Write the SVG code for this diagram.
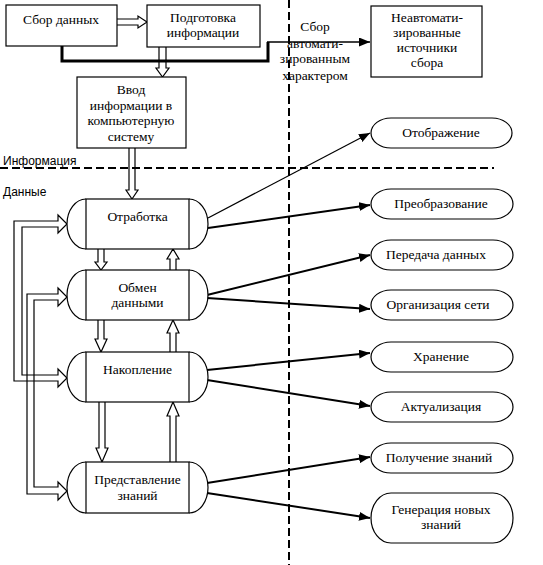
<svg xmlns="http://www.w3.org/2000/svg" width="543" height="565" viewBox="0 0 543 565">
<defs>
<style>
.box{fill:#fff;stroke:#000;stroke-width:1.2}
.t{font-family:"Liberation Serif","Times New Roman",serif;font-size:13.5px;fill:#000;text-anchor:middle}
.ts{font-family:"Liberation Sans",Arial,sans-serif;font-size:12px;fill:#000}
.hol{fill:none;stroke:#000;stroke-width:1.2;stroke-linejoin:miter}
.con{fill:none;stroke:#000;stroke-width:2}
.dash{fill:none;stroke:#000;stroke-width:2;stroke-dasharray:8 4}
</style>
<marker id="ah" markerUnits="userSpaceOnUse" markerWidth="12" markerHeight="10" refX="11" refY="4.5" orient="auto">
<path d="M0,0 L11,4.5 L0,9 z" fill="#000"/>
</marker>
</defs>
<rect width="543" height="565" fill="#fff"/>

<!-- separators -->
<g id="separators">
<line class="dash" x1="0" y1="168" x2="494" y2="168"/>
<line class="dash" x1="289" y1="0" x2="289" y2="565"/>
<text class="ts" x="3" y="165">Информация</text>
<text class="ts" x="3" y="196">Данные</text>
</g>

<!-- connectors -->
<g id="connectors">
<!-- thick collection line -->
<path d="M62,46 V61 H268 V42" fill="none" stroke="#000" stroke-width="3"/>
<path d="M267,42 H370" fill="none" stroke="#000" stroke-width="1.5" marker-end="url(#ah)"/>
<!-- hollow arrows top -->
<path class="hol" d="M117,19 H138 V16 L147,22 L138,28 V25 H117"/>
<path class="hol" d="M159,47 V68 H156 L162.5,77 L169,68 H166 V47"/>
<path class="hol" d="M129,148 V190 H126 L132,199 L138,190 H135 V148"/>
<!-- between processes -->
<path class="hol" d="M98,249 V262 H95 L101,270 L107,262 H104 V249"/>
<path class="hol" d="M170,270 V259 H167 L173,249 L179,259 H176 V270"/>
<path class="hol" d="M98,320 V339 H95 L101,352 L107,339 H104 V320"/>
<path class="hol" d="M170,352 V333 H167 L173,320 L179,333 H176 V352"/>
<path class="hol" d="M99,402 V448 H96 L102,462 L108,448 H105 V402"/>
<path class="hol" d="M170,462 V416 H167 L173,402 L179,416 H176 V462"/>
<!-- left loops -->
<path class="hol" d="M58,215 L67,224 L58,233 V227 H22 V375 H58 V369 L67,378 L58,387 V381 H14 V221 H58 Z"/>
<path class="hol" d="M58,288 L67,297 L58,306 V300 H34 V487 H58 V482 L67,491 L58,500 V494 H27 V294 H58 Z"/>
<!-- outputs -->
<line x1="208" y1="218" x2="370" y2="133" stroke="#000" stroke-width="1.3" marker-end="url(#ah)"/>
<line class="con" x1="208" y1="228" x2="370" y2="205" marker-end="url(#ah)"/>
<line class="con" x1="207" y1="295" x2="370" y2="255" marker-end="url(#ah)"/>
<line class="con" x1="207" y1="298" x2="370" y2="309" marker-end="url(#ah)"/>
<line class="con" x1="207" y1="370" x2="370" y2="353" marker-end="url(#ah)"/>
<line class="con" x1="207" y1="380" x2="370" y2="406" marker-end="url(#ah)"/>
<line class="con" x1="207" y1="483" x2="370" y2="457" marker-end="url(#ah)"/>
<line class="con" x1="207" y1="493" x2="370" y2="518" marker-end="url(#ah)"/>
</g>

<!-- top nodes -->
<g id="sbor">
<rect class="box" x="6" y="5" width="111" height="41"/>
<text class="t" x="61" y="24">Сбор данных</text>
</g>
<g id="podgotovka">
<rect class="box" x="147" y="5" width="113" height="42"/>
<text class="t" x="203" y="22">Подготовка</text>
<text class="t" x="203" y="37">информации</text>
</g>
<g id="vvod">
<rect class="box" x="77" y="77" width="109" height="71"/>
<text class="t" x="131" y="94">Ввод</text>
<text class="t" x="131" y="110">информации в</text>
<text class="t" x="131" y="125">компьютерную</text>
<text class="t" x="131" y="141">систему</text>
</g>
<g id="neavto">
<rect class="box" x="371" y="6" width="111" height="71"/>
<text class="t" x="427" y="22">Неавтомати-</text>
<text class="t" x="427" y="37">зированные</text>
<text class="t" x="427" y="52">источники</text>
<text class="t" x="427" y="67">сбора</text>
</g>
<g id="sbor-label">
<text class="t" x="315" y="31">Сбор</text>
<text class="t" x="315" y="48">автомати-</text>
<text class="t" x="315" y="63">зированным</text>
<text class="t" x="315" y="80">характером</text>
</g>

<!-- process nodes -->
<g id="otrabotka">
<path class="box" d="M86,199 A19,25 0 0,0 86,249 M189,199 A19,25 0 0,1 189,249" fill="none"/>
<rect class="box" x="86" y="199" width="103" height="50"/>
<text class="t" x="137.5" y="221">Отработка</text>
</g>
<g id="obmen">
<path class="box" d="M86,270 A19,25 0 0,0 86,320 M189,270 A19,25 0 0,1 189,320" fill="none"/>
<rect class="box" x="86" y="270" width="103" height="50"/>
<text class="t" x="137.5" y="292">Обмен</text>
<text class="t" x="137.5" y="307">данными</text>
</g>
<g id="nakoplenie">
<path class="box" d="M86,352 A19,25 0 0,0 86,402 M189,352 A19,25 0 0,1 189,402" fill="none"/>
<rect class="box" x="86" y="352" width="103" height="50"/>
<text class="t" x="137.5" y="374">Накопление</text>
</g>
<g id="predstavlenie">
<path class="box" d="M86,462 A19,25.5 0 0,0 86,513 M189,462 A19,25.5 0 0,1 189,513" fill="none"/>
<rect class="box" x="86" y="462" width="103" height="51"/>
<text class="t" x="137.5" y="484">Представление</text>
<text class="t" x="137.5" y="500">знаний</text>
</g>

<!-- result nodes -->
<g id="otobrazhenie">
<rect class="box" x="371" y="118" width="141" height="30" rx="20" ry="15"/>
<text class="t" x="441" y="137">Отображение</text>
</g>
<g id="preobrazovanie">
<rect class="box" x="371" y="189" width="142" height="30" rx="20" ry="15"/>
<text class="t" x="441" y="208">Преобразование</text>
</g>
<g id="peredacha">
<rect class="box" x="371" y="240" width="142" height="30" rx="20" ry="15"/>
<text class="t" x="436" y="259">Передача данных</text>
</g>
<g id="organizaciya">
<rect class="box" x="371" y="290" width="142" height="30" rx="20" ry="15"/>
<text class="t" x="438" y="309">Организация сети</text>
</g>
<g id="hranenie">
<rect class="box" x="371" y="342" width="142" height="30" rx="20" ry="15"/>
<text class="t" x="441" y="361">Хранение</text>
</g>
<g id="aktualizaciya">
<rect class="box" x="371" y="392" width="142" height="30" rx="20" ry="15"/>
<text class="t" x="441" y="411">Актуализация</text>
</g>
<g id="poluchenie">
<rect class="box" x="371" y="443" width="142" height="30" rx="20" ry="15"/>
<text class="t" x="439" y="462">Получение знаний</text>
</g>
<g id="generaciya">
<rect class="box" x="371" y="493" width="142" height="50" rx="20" ry="25"/>
<text class="t" x="441" y="514">Генерация новых</text>
<text class="t" x="441" y="529">знаний</text>
</g>
</svg>
